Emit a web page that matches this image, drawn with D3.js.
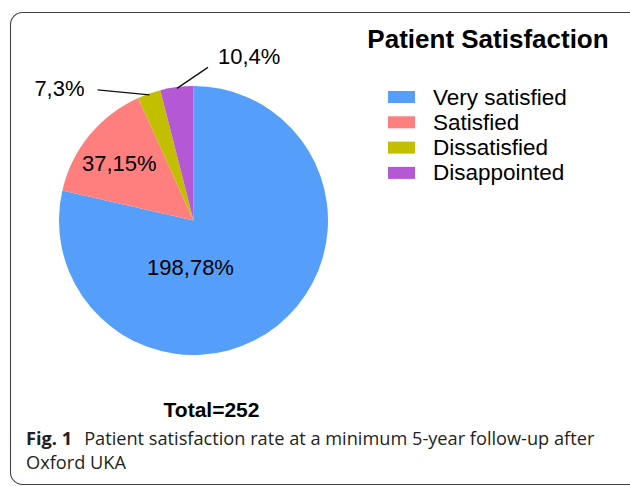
<!DOCTYPE html>
<html>
<head>
<meta charset="utf-8">
<script src="https://cdn.jsdelivr.net/npm/d3@7"></script>
<style>
  body { margin: 0; background: #fff; }
  svg { display: block; }
</style>
</head>
<body>
<svg id="chart" width="630" height="486"></svg>
<script>
// Patient satisfaction pie (n=252)

const categories = ["Very satisfied", "Satisfied", "Dissatisfied", "Disappointed"];
const counts = [198, 37, 7, 10];
const percents = [78, 15, 3, 4];
const colors = ["#559ffb", "#fe7f7e", "#c2bf00", "#b558d6"];
const total = 252;

const svg = d3.select("#chart");
const font = "'Liberation Sans', Arial, sans-serif";

// frame
svg.append("rect")
  .attr("x", 10.5).attr("y", 12.5)
  .attr("width", 640).attr("height", 472)
  .attr("rx", 12).attr("ry", 12)
  .attr("fill", "none")
  .attr("stroke", "#444")
  .attr("stroke-width", 1.1);

const cx = 193.5, cy = 220.5, r = 134.5;
const g = svg.append("g").attr("transform", `translate(${cx},${cy})`);

const data = categories.map((c, i) => ({cat: c, n: counts[i], pct: percents[i], color: colors[i]}));

const pie = d3.pie().sort(null).value(d => d.n);
const arc = d3.arc().innerRadius(0).outerRadius(r);
const arcs = pie(data);

g.selectAll("path.slice")
  .data(arcs)
  .join("path")
  .attr("class", "slice")
  .attr("d", arc)
  .attr("fill", d => d.data.color);

const labelText = d => `${d.data.n},${d.data.pct}%`;

// big slice label: below centre
const big = arcs[0];
g.append("text")
  .attr("x", -3).attr("y", r * 0.405)
  .attr("text-anchor", "middle")
  .attr("font-family", font).attr("font-size", 22)
  .text(labelText(big));

// salmon slice label near centroid
const inArc = d3.arc().innerRadius(r * 0.68).outerRadius(r * 0.68);
const c1 = inArc.centroid(arcs[1]);
g.append("text")
  .attr("x", c1[0] - 3.5).attr("y", c1[1] + 8)
  .attr("text-anchor", "middle")
  .attr("font-family", font).attr("font-size", 22)
  .text(labelText(arcs[1]));

// small slices: leader lines
const edge = d3.arc().innerRadius(r * 0.99).outerRadius(r * 0.99);
const leaders = [
  {a: arcs[2], dx: -52, dy: -5, anchor: "end", tx: -13, ty: 6},
  {a: arcs[3], dx: 31, dy: -21, anchor: "start", tx: 10, ty: -3}
];
leaders.forEach(l => {
  const p = edge.centroid(l.a);
  const q = [p[0] + l.dx, p[1] + l.dy];
  g.append("line")
    .attr("x1", p[0]).attr("y1", p[1])
    .attr("x2", q[0]).attr("y2", q[1])
    .attr("stroke", "#111").attr("stroke-width", 1.3);
  g.append("text")
    .attr("x", q[0] + l.tx).attr("y", q[1] + l.ty)
    .attr("text-anchor", l.anchor)
    .attr("font-family", font).attr("font-size", 22)
    .text(labelText(l.a));
});

// title
svg.append("text")
  .attr("x", 488).attr("y", 48)
  .attr("text-anchor", "middle")
  .attr("font-family", font).attr("font-size", 26).attr("font-weight", "bold")
  .text("Patient Satisfaction");

// legend
const legend = svg.append("g").attr("transform", "translate(388,91)");
const lg = legend.selectAll("g")
  .data(data)
  .join("g")
  .attr("transform", (d, i) => `translate(0,${i * 25.3})`);
lg.append("rect")
  .attr("width", 27).attr("height", 12)
  .attr("fill", d => d.color);
lg.append("text")
  .attr("x", 45).attr("y", 13.5)
  .attr("font-family", font).attr("font-size", 22.5)
  .text(d => d.cat);

// total
svg.append("text")
  .attr("x", 211.5).attr("y", 417)
  .attr("text-anchor", "middle")
  .attr("font-family", font).attr("font-size", 21).attr("font-weight", "bold")
  .text(`Total=${total}`);

// caption
const capFont = "'Open Sans', 'Noto Sans', sans-serif";
const cap = svg.append("text")
  .attr("x", 26).attr("y", 445)
  .attr("font-family", capFont).attr("font-size", 18.2)
  .attr("fill", "#231f20");
cap.append("tspan").attr("font-weight", "bold").text("Fig. 1");
cap.append("tspan").attr("dx", 12).text("Patient satisfaction rate at a minimum 5-year follow-up after");
svg.append("text")
  .attr("x", 26).attr("y", 469)
  .attr("font-family", capFont).attr("font-size", 18.2)
  .attr("fill", "#231f20")
  .text("Oxford UKA");
</script>
</body>
</html>
